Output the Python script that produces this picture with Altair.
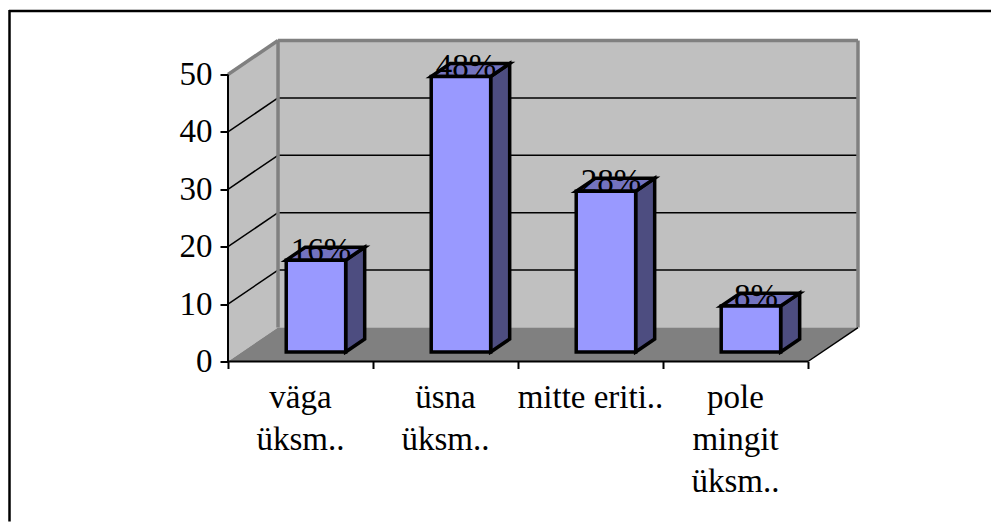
import altair as alt
import pandas as pd

# ---- data ----
categories = ["väga\nüksm..", "üsna\nüksm..", "mitte eriti..", "pole\nmingit\nüksm.."]
values = [16, 48, 28, 8]
y_ticks = [0, 10, 20, 30, 40, 50]

# ---- 3D geometry constants (in scale units) ----
N = len(categories)
YMAX = 50
D = 0.345      # depth in x units
DY = 5.92      # depth in y units
F0 = 0.28      # bar front depth fraction
BD = 0.38      # bar depth fraction
W = 0.41       # bar width

FONT = "Liberation Serif"
FS = 33

xs = alt.Scale(domain=[0, N + D], nice=False, zero=False)
ys = alt.Scale(domain=[0, YMAX + DY], nice=False, zero=False)

x_axis = alt.Axis(values=list(range(N + 1)), labels=False, domain=False, grid=False,
                  tickSize=7, tickColor="black", tickWidth=2, title=None)
y_axis = alt.Axis(values=y_ticks, domain=False, grid=False, tickSize=8, tickColor="black",
                  tickWidth=2, labelFont=FONT, labelFontSize=FS, labelColor="black",
                  labelPadding=8, title=None)


def X(f):
    return alt.X(f"{f}:Q", scale=xs, axis=x_axis)


def Y(f):
    return alt.Y(f"{f}:Q", scale=ys, axis=y_axis)


# walls
side = pd.DataFrame({"x": [0, D], "y": [0, DY], "y2": [YMAX, YMAX + DY], "g": [0, 0]})
back = pd.DataFrame({"x": [D], "x2": [N + D], "y": [DY], "y2": [YMAX + DY]})
floor = pd.DataFrame({"y": [0, DY], "x": [0, D], "x2": [N, N + D], "g": [0, 0]})

side_l = alt.Chart(side).mark_area(orient="vertical", color="#C0C0C0").encode(
    x=X("x"), y=Y("y"), y2="y2", detail="g:N")
back_l = alt.Chart(back).mark_rect(color="#C0C0C0").encode(
    x=X("x"), x2="x2", y=Y("y"), y2="y2")
floor_l = alt.Chart(floor).mark_area(orient="horizontal", color="#808080").encode(
    y=Y("y"), x=X("x"), x2="x2", detail="g:N")

grid_vals = [v for v in y_ticks if 0 < v < YMAX]
grid = pd.DataFrame({"yb": [v + DY for v in grid_vals], "xa": D, "xb": N + D,
                     "yf": grid_vals, "x0": 0.0})
grid_l = alt.Chart(grid).mark_rule(color="black", strokeWidth=1.5).encode(
    x=X("xa"), x2="xb", y=Y("yb"))
diag_l = alt.Chart(grid).mark_rule(color="black", strokeWidth=1.5).encode(
    x=X("x0"), x2="xa", y=Y("yf"), y2="yb")

# gray wall borders
borders = pd.DataFrame({
    "x": [D, D, N + D, 0],
    "x2": [D, N + D, N + D, D],
    "y": [DY, YMAX + DY, DY, YMAX],
    "y2": [YMAX + DY, YMAX + DY, YMAX + DY, YMAX + DY],
})
border_l = alt.Chart(borders).mark_rule(color="#808080", strokeWidth=3.5).encode(
    x=X("x"), x2="x2", y=Y("y"), y2="y2")

# floor right edge
fedge = pd.DataFrame({"x": [N], "x2": [N + D], "y": [0], "y2": [DY]})
fedge_l = alt.Chart(fedge).mark_rule(color="black", strokeWidth=1.5).encode(
    x=X("x"), x2="x2", y=Y("y"), y2="y2")

# front axis lines
yaxis_df = pd.DataFrame({"x": [0], "y": [0], "y2": [YMAX]})
yaxis_l = alt.Chart(yaxis_df).mark_rule(color="black", strokeWidth=2).encode(
    x=X("x"), y=Y("y"), y2="y2")
xaxis_df = pd.DataFrame({"x": [0], "x2": [N], "y": [0]})
xaxis_l = alt.Chart(xaxis_df).mark_rule(color="black", strokeWidth=2).encode(
    x=X("x"), x2="x2", y=Y("y"))

# bars
b0 = F0 * DY
bdx = BD * D
bdy = BD * DY
rows_front, rows_side, rows_top, rows_lab = [], [], [], []
for i, v in enumerate(values):
    c = i + 0.5 + F0 * D + 0.01
    xf0, xf1 = c - W / 2, c + W / 2
    rows_front.append({"b": i, "x": xf0, "x2": xf1, "y": b0, "y2": b0 + v})
    rows_side.append({"b": i, "x": xf1, "y": b0, "y2": b0 + v})
    rows_side.append({"b": i, "x": xf1 + bdx, "y": b0 + bdy, "y2": b0 + v + bdy})
    rows_top.append({"b": i, "y": b0 + v, "x": xf0, "x2": xf1})
    rows_top.append({"b": i, "y": b0 + v + bdy, "x": xf0 + bdx, "x2": xf1 + bdx})
    rows_lab.append({"x": c, "y": b0 + v, "t": f"{v}%"})

SW = 3.5
side_b = alt.Chart(pd.DataFrame(rows_side)).mark_area(
    orient="vertical", color="#4D4D80", stroke="black", strokeWidth=SW, strokeJoin="miter"
).encode(x=X("x"), y=Y("y"), y2="y2", detail="b:N")
top_b = alt.Chart(pd.DataFrame(rows_top)).mark_area(
    orient="horizontal", color="#7373BF", stroke="black", strokeWidth=SW, strokeJoin="miter"
).encode(y=Y("y"), x=X("x"), x2="x2", detail="b:N")
front_b = alt.Chart(pd.DataFrame(rows_front)).mark_rect(
    color="#9999FF", stroke="black", strokeWidth=SW
).encode(x=X("x"), x2="x2", y=Y("y"), y2="y2")
lab_b = alt.Chart(pd.DataFrame(rows_lab)).mark_text(
    font=FONT, fontSize=FS, color="black", baseline="alphabetic", dx=5, dy=1
).encode(x=X("x"), y=Y("y"), text="t:N")

# category labels
cat_df = pd.DataFrame({"x": [i + 0.5 for i in range(N)], "t": categories})
cat_l = alt.Chart(cat_df).mark_text(
    font=FONT, fontSize=FS, color="black", baseline="alphabetic",
    lineBreak="\n", lineHeight=42
).encode(x=X("x"), y=alt.value(367), text="t:N")

# outer frame (top and left edges)
frame_df = pd.DataFrame({"k": [0]})
frame_top = alt.Chart(frame_df).mark_rule(color="black", strokeWidth=2.5).encode(
    x=alt.value(-219), x2=alt.value(770), y=alt.value(-29.5))
frame_left = alt.Chart(frame_df).mark_rule(color="black", strokeWidth=2.5).encode(
    x=alt.value(-218.5), y=alt.value(-30.5), y2=alt.value(481))

chart = alt.layer(
    side_l, back_l, floor_l, grid_l, diag_l, border_l, fedge_l,
    yaxis_l, xaxis_l, side_b, top_b, front_b, lab_b, cat_l, frame_top, frame_left
).properties(
    width=630, height=321,
    padding={"left": 220, "top": 32.5, "right": 133, "bottom": 160},
    autosize="none",
    background="white",
).configure_view(strokeWidth=0)

chart.save("out.html", embed_options={"renderer": "svg", "actions": False})
